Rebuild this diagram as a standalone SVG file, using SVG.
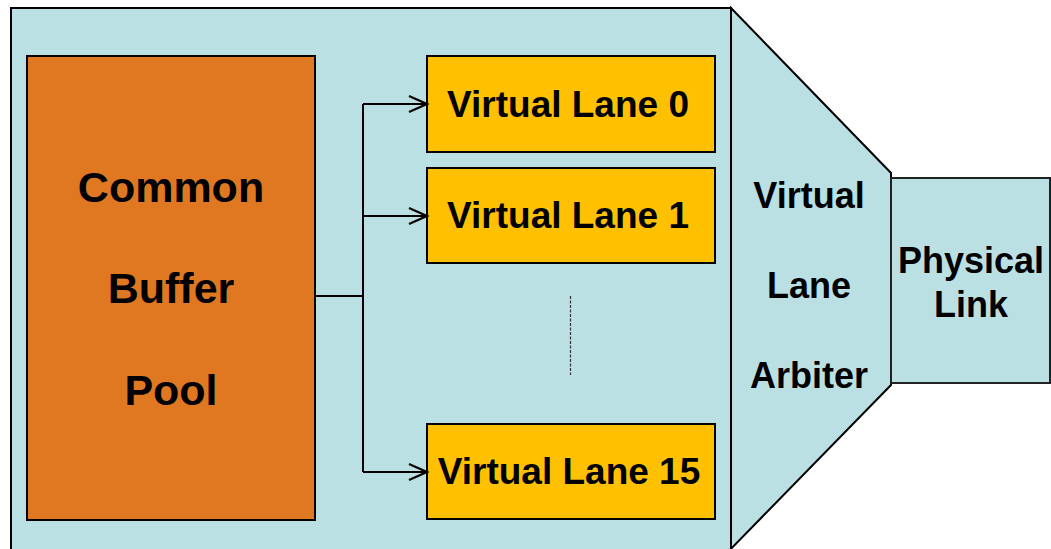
<svg xmlns="http://www.w3.org/2000/svg" width="1051" height="549" viewBox="0 0 1051 549">
  <style>
    .panel { fill: #BBE0E3; stroke: #000; stroke-width: 2; }
    .pool { fill: #E07822; stroke: #000; stroke-width: 2; }
    .lane { fill: #FFC000; stroke: #000; stroke-width: 2; }
    .wire { fill: none; stroke: #000; stroke-width: 2; }
    .dots { fill: none; stroke: #333; stroke-width: 1.2; stroke-dasharray: 3 1.5; }
    text { font-family: "Liberation Sans", Arial, sans-serif; font-weight: bold; fill: #000; text-anchor: middle; }
    .big { font-size: 43px; }
    .mid { font-size: 36px; }
    .lbl { font-size: 37px; }
  </style>
  <defs>
    <marker id="open-arrow" markerUnits="userSpaceOnUse" markerWidth="24" markerHeight="20" refX="20" refY="10" orient="auto">
      <path d="M2,2 L20,10 L2,18" fill="none" stroke="#000" stroke-width="2.2"/>
    </marker>
  </defs>

  <!-- switch port housing -->
  <g id="port">
    <rect class="panel" x="11" y="8" width="720" height="560"/>
  </g>

  <!-- arbiter funnel -->
  <g id="arbiter">
    <path class="panel" d="M731,8 L891,173 L891,385 L722,558 H731 Z"/>
    <text class="mid" x="809" y="208">Virtual</text>
    <text class="mid" x="809" y="298">Lane</text>
    <text class="mid" x="809" y="388">Arbiter</text>
  </g>

  <!-- outgoing link -->
  <g id="physical-link">
    <rect x="891" y="178" width="159" height="205" fill="#BBE0E3" stroke="#222" stroke-width="2"/>
    <text class="mid" x="971" y="273">Physical</text>
    <text class="mid" x="971" y="317">Link</text>
  </g>

  <g id="buffer-pool">
    <rect class="pool" x="27" y="56" width="288" height="464"/>
    <text class="big" x="171" y="202">Common</text>
    <text class="big" x="171" y="303">Buffer</text>
    <text class="big" x="171" y="405">Pool</text>
  </g>

  <g id="vl0">
    <rect class="lane" x="427" y="56" width="288" height="96"/>
    <text class="lbl" x="568" y="117">Virtual Lane 0</text>
  </g>
  <g id="vl1">
    <rect class="lane" x="427" y="168" width="288" height="95"/>
    <text class="lbl" x="568" y="228">Virtual Lane 1</text>
  </g>
  <g id="vl15">
    <rect class="lane" x="427" y="424" width="288" height="95"/>
    <text class="lbl" x="569" y="484">Virtual Lane 15</text>
  </g>

  <g id="connectors">
    <path class="wire" d="M315,296 H363"/>
    <path class="wire" d="M363,104 V472"/>
    <path class="wire" d="M363,104 H427" marker-end="url(#open-arrow)"/>
    <path class="wire" d="M363,216 H427" marker-end="url(#open-arrow)"/>
    <path class="wire" d="M363,472 H427" marker-end="url(#open-arrow)"/>
    <path class="dots" d="M570.5,296 V375"/>
  </g>
</svg>
